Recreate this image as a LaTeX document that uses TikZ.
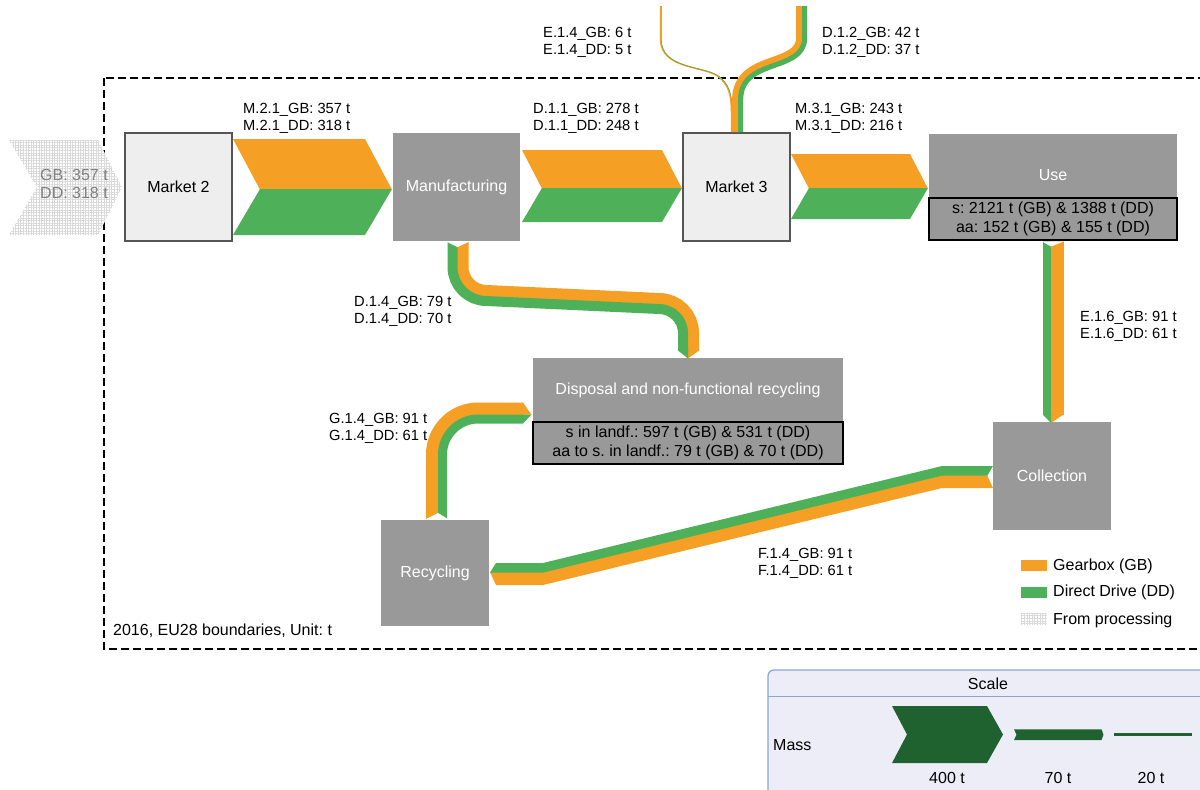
\documentclass[tikz,border=0pt]{standalone}
\usepackage{fontspec}
\setmainfont{Liberation Sans}
\usetikzlibrary{patterns.meta}
\frenchspacing

\definecolor{gbor}{HTML}{F5A024}
\definecolor{ddgr}{HTML}{4FB05A}
\definecolor{procgray}{HTML}{999999}
\definecolor{mktfill}{HTML}{EEEEEE}
\definecolor{mktline}{HTML}{555555}
\definecolor{srcgray}{HTML}{7F7F7F}
\definecolor{scalefill}{HTML}{ECEDF7}
\definecolor{scaleline}{HTML}{85A9D0}
\definecolor{scalegreen}{HTML}{1F6230}

% two-coloured band along a boundary path: each half is a doubled stroke clipped to its side
\newcommand{\splitband}[7]{%
  \draw[#3, line width=1.5pt] #1;
  \begin{scope}\clip #1 #2 -- cycle; \draw[#3, line width=#4pt] #1; \end{scope}
  \begin{scope}\clip #1 #5 -- cycle; \draw[#6, line width=#7pt] #1; \end{scope}}

% horizontal chevron flow: x0, x1, ytop, ymid, ybot, depth
\newcommand{\chevflow}[6]{%
  \fill[gbor] (#1,#3) -- (#2-#6,#3) -- (#2,#4+0.6) -- (#1+#6,#4+0.6) -- cycle;
  \fill[ddgr] (#1+#6,#4) -- (#2,#4) -- (#2-#6,#5) -- (#1,#5) -- cycle;}

\tikzset{
  mkt/.style={draw=mktline, line width=1.2pt, fill=mktfill, inner sep=0pt,
    minimum width=107pt, minimum height=108pt, font=\fontsize{16}{19}\selectfont},
  proc/.style={fill=procgray, text=white, inner sep=0pt, font=\fontsize{16}{19}\selectfont},
  proctitle/.style={text=white, inner sep=0pt, font=\fontsize{16}{19}\selectfont},
  stock/.style={draw=black, line width=2.5pt, fill=procgray, inner sep=0pt, align=center,
    font=\fontsize{16}{18.4}\selectfont},
  lbl/.style={anchor=west, align=left, inner sep=0pt, font=\fontsize{14.7}{17}\selectfont},
  txt/.style={inner sep=0pt, font=\fontsize{16}{19}\selectfont},
  sysbound/.style={line width=2.5pt, dash pattern=on 8pt off 4pt},
  procfill/.style={pattern={Hatch[angle=0,distance=2.6pt,line width=0.7pt]}, pattern color=gray!30},
}

\begin{document}
\begin{tikzpicture}[x=1pt,y=-1pt]
\useasboundingbox (0,0) rectangle (1200,790);

% system boundary
\draw[sysbound] (104,78) rectangle (1230,649);
\node[txt, anchor=west] (year) at (113,631) {2016, EU28 boundaries, Unit: t};

% inflow from processing
\fill[white] (9,140) -- (98,140) -- (122,187) -- (98,235) -- (9,235) -- (37,187) -- cycle;
\fill[procfill] (9,140) -- (98,140) -- (122,187) -- (98,235) -- (9,235) -- (37,187) -- cycle;
\node[txt, text=srcgray, align=center, font=\fontsize{16}{18}\selectfont] (src) at (74,184) {GB: 357 t\\DD: 318 t};

% processes
\node[mkt] (m2) at (178.5,187) {Market 2};
\node[proc, minimum width=127pt, minimum height=108pt] (manu) at (456.5,187) {Manufacturing};
\node[mkt] (m3) at (736.5,187) {Market 3};
\node[proc, minimum width=248pt, minimum height=106pt] (use) at (1053,187) {};
\node[proctitle] (uset) at (1053,175) {Use};
\node[stock, minimum width=248pt, minimum height=42pt] (uses) at (1053,219)
  {s: 2121 t (GB) \& 1388 t (DD)\\aa: 152 t (GB) \& 155 t (DD)};
\node[proc, minimum width=310pt, minimum height=106pt] (disp) at (688,411) {};
\node[proctitle] (dispt) at (688,390) {Disposal and non-functional recycling};
\node[stock, minimum width=310pt, minimum height=42pt] (disps) at (688,443)
  {s in landf.: 597 t (GB) \& 531 t (DD)\\aa to s. in landf.: 79 t (GB) \& 70 t (DD)};
\node[proc, minimum width=108pt, minimum height=106pt] (recy) at (435,573) {Recycling};
\node[proc, minimum width=118pt, minimum height=108pt] (coll) at (1052,476) {Collection};

% main chain flows
\chevflow{233}{392}{139}{189}{235}{27}
\chevflow{522}{682}{150}{188}{222}{20}
\chevflow{791}{928}{154}{188}{219}{18}

% imports into Market 3
\draw[gbor, line width=1.5pt] (660.5,6) -- (660.5,40) .. controls (661.5,68) and (700,66) .. (716,75)
  .. controls (729,83) and (731.5,96) .. (731.5,112) -- (731.5,132);
\draw[ddgr, line width=0.6pt, xshift=0.8pt] (660.5,6) -- (660.5,40) .. controls (661.5,68) and (700,66) .. (716,75)
  .. controls (729,83) and (731.5,96) .. (731.5,112) -- (731.5,132);
\splitband{(802,6) -- (802,38) .. controls (802,70) and (738,55) .. (738,100) -- (738,132)}
  {-- (738,145) -- (600,145) -- (600,-10) -- (802,-10)}{gbor}{11.8}
  {-- (738,145) -- (900,145) -- (900,-10) -- (802,-10)}{ddgr}{10.4}

% Manufacturing -> Disposal
\splitband{(457.5,242) -- (457.5,267) .. controls (457.5,283) and (470.5,296) .. (486.5,296)
  -- (659,304) .. controls (675,304) and (688,317) .. (688,333) -- (688,351)}
  {-- (688,370) -- (800,370) -- (800,230) -- (457.5,230)}{gbor}{22}
  {-- (688,370) -- (380,370) -- (380,230) -- (457.5,230)}{ddgr}{20}
\fill[white] (447,242) -- (468.5,242) -- (457.5,247) -- cycle;
\fill[gbor] (687.7,350.5) -- (699,350.5) -- (688,358.5) -- cycle;
\fill[ddgr] (678,350.5) -- (688.3,350.5) -- (688,358.5) -- cycle;

% Use -> Collection
\fill[gbor] (1050.5,241) rectangle (1063.5,415);
\fill[ddgr] (1042.5,241) rectangle (1051,415);
\fill[gbor] (1050.7,414.5) -- (1063.5,414.5) -- (1051,423) -- cycle;
\fill[ddgr] (1042.5,414.5) -- (1051.3,414.5) -- (1051,423) -- cycle;
\fill[white] (1042,241.4) -- (1064,241.4) -- (1051,246.5) -- cycle;

% Collection -> Recycling
\fill[gbor] (987,475) -- (942,475) -- (543,572) -- (490,572) -- (496,585) -- (543,585)
  -- (942,488) -- (993,488) -- cycle;
\fill[ddgr] (993,466) -- (942,466) -- (543,563) -- (496,563) -- (490,572.6) -- (543,572.6)
  -- (942,475.6) -- (987.4,475.6) -- cycle;

% Recycling -> Disposal
\splitband{(438,519) -- (438,454.5) .. controls (438,432.5) and (456,414.5) .. (478,414.5) -- (523,414.5)}
  {-- (545,414.5) -- (545,385) -- (405,385) -- (405,535) -- (438,535)}{gbor}{24}
  {-- (545,414.5) -- (545,535) -- (438,535)}{ddgr}{18}
\fill[gbor] (522.5,402.5) -- (523,402.5) -- (531.5,414.7) -- (522.5,414.7) -- cycle;
\fill[ddgr] (522.5,414.5) -- (531.5,414.5) -- (523,423.5) -- (522.5,423.5) -- cycle;
\fill[white] (425,519.6) -- (449,519.6) -- (438,513) -- cycle;

% flow labels
\node[lbl] (lm21) at (243,118.5) {M.2.1\_GB: 357 t\\M.2.1\_DD: 318 t};
\node[lbl] (ld11) at (533,118.5) {D.1.1\_GB: 278 t\\D.1.1\_DD: 248 t};
\node[lbl] (lm31) at (795,118.5) {M.3.1\_GB: 243 t\\M.3.1\_DD: 216 t};
\node[lbl] (le14) at (543,42.5) {E.1.4\_GB: 6 t\\E.1.4\_DD: 5 t};
\node[lbl] (ld12) at (822,42.5) {D.1.2\_GB: 42 t\\D.1.2\_DD: 37 t};
\node[lbl] (ld14) at (354,311) {D.1.4\_GB: 79 t\\D.1.4\_DD: 70 t};
\node[lbl] (le16) at (1080,326) {E.1.6\_GB: 91 t\\E.1.6\_DD: 61 t};
\node[lbl] (lg14) at (329,428) {G.1.4\_GB: 91 t\\G.1.4\_DD: 61 t};
\node[lbl] (lf14) at (758,563.5) {F.1.4\_GB: 91 t\\F.1.4\_DD: 61 t};

% legend
\fill[gbor] (1020.5,560) rectangle (1046.5,571);
\node[txt, anchor=west] (leggb) at (1053,566) {Gearbox (GB)};
\fill[ddgr] (1020.5,586.5) rectangle (1046.5,597.5);
\node[txt, anchor=west] (legdd) at (1053,592) {Direct Drive (DD)};
\fill[procfill] (1020.5,613) rectangle (1046.5,624);
\node[txt, anchor=west] (legpr) at (1053,620) {From processing};

% scale
\draw[scaleline, fill=scalefill, line width=1.3pt, rounded corners=6pt] (768,670) rectangle (1240,830);
\draw[scaleline, line width=1.3pt] (768,696.5) -- (1240,696.5);
\node[txt] (scalet) at (988,684) {Scale};
\node[txt, anchor=west] (mass) at (773,745) {Mass};
\fill[scalegreen] (892,706) -- (987,706) -- (1003,734.5) -- (987,763) -- (892,763) -- (907,734.5) -- cycle;
\fill[scalegreen] (1014,729.3) -- (1101.5,729.3) -- (1103.5,734.7) -- (1101.5,740) -- (1014,740) -- (1016.5,734.7) -- cycle;
\fill[scalegreen] (1114,733.2) rectangle (1192,736.2);
\node[txt] (s400) at (947,778) {400 t};
\node[txt] (s70) at (1058,778) {70 t};
\node[txt] (s20) at (1151,778) {20 t};
\end{tikzpicture}
\end{document}
